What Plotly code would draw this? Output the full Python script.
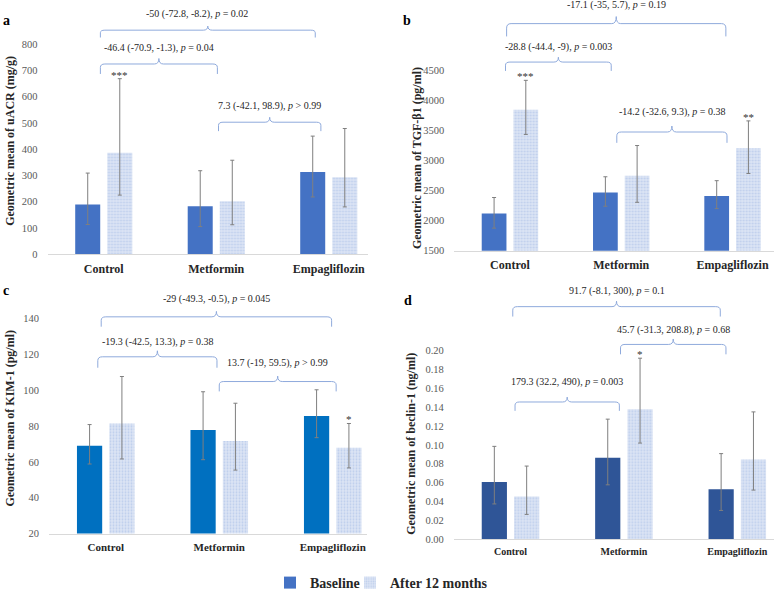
import plotly.graph_objects as go

W, H = 774, 599
FONT = "Liberation Serif"

categories = ["Control", "Metformin", "Empagliflozin"]
series_names = ["Baseline", "After 12 months"]

# ---- Panel a: uACR (mg/g)
uacr_base = [189, 183, 313]
uacr_base_hi = [309, 318, 450]
uacr_base_lo = [113, 105, 218]
uacr_after = [387, 202, 293]
uacr_after_hi = [669, 358, 479]
uacr_after_lo = [225, 112, 180]
uacr_ticks = [0, 100, 200, 300, 400, 500, 600, 700, 800]
uacr_stars = ["", "", ""]
uacr_after_stars = ["***", "", ""]

# ---- Panel b: TGF-β1 (pg/ml)
tgf_base = [2120, 2470, 2410]
tgf_base_hi = [2385, 2730, 2665]
tgf_base_lo = [1875, 2240, 2200]
tgf_after = [3845, 2745, 3205]
tgf_after_hi = [4335, 3250, 3660]
tgf_after_lo = [3435, 2305, 2785]
tgf_ticks = [1500, 2000, 2500, 3000, 3500, 4000, 4500]
tgf_stars = ["", "", ""]
tgf_after_stars = ["***", "", "**"]

# ---- Panel c: KIM-1 (pg/ml)
kim_base = [69.0, 77.7, 85.6]
kim_base_hi = [80.8, 99.1, 100.2]
kim_base_lo = [58.8, 61.2, 73.5]
kim_after = [81.4, 71.6, 67.8]
kim_after_hi = [107.6, 92.7, 81.4]
kim_after_lo = [61.6, 55.4, 56.6]
kim_ticks = [20, 40, 60, 80, 100, 120, 140]
kim_stars = ["", "", ""]
kim_after_stars = ["", "", "*"]

# ---- Panel d: beclin-1 (ng/ml)
bec_base = [0.0607, 0.0862, 0.0530]
bec_base_hi = [0.0984, 0.1273, 0.0907]
bec_base_lo = [0.0373, 0.0576, 0.0304]
bec_after = [0.0453, 0.1378, 0.0844]
bec_after_hi = [0.0775, 0.1920, 0.1350]
bec_after_lo = [0.0262, 0.1019, 0.0520]
bec_ticks = [0.00, 0.02, 0.04, 0.06, 0.08, 0.10, 0.12, 0.14, 0.16, 0.18, 0.20]
bec_stars = ["", "", ""]
bec_after_stars = ["", "*", ""]

# ---- Comparison brackets:
# (label, x_start, x_end, line level, end level, text level, text x or None)
uacr_brackets = [
    ("-50 (-72.8, -8.2), <i>p</i> = 0.02", -0.03, 1.88, 854, 826, 916, 0.83),
    ("-46.4 (-70.9, -1.3), <i>p</i> = 0.04", -0.03, 1.01, 725, 687, 785, None),
    ("7.3 (-42.1, 98.9), <i>p</i> > 0.99", 1.02, 1.93, 503, 469, 563, None),
]
tgf_brackets = [
    ("-17.1 (-35, 5.7), <i>p</i> = 0.19", -0.03, 1.94, 5279, 5066, 5590, None),
    ("-28.8 (-44.4, -9), <i>p</i> = 0.003", -0.04, 0.91, 4639, 4492, 4885, None),
    ("-14.2 (-32.6, 9.3), <i>p</i> = 0.38", 0.96, 1.95, 3475, 3295, 3803, None),
]
kim_brackets = [
    ("-29 (-49.3, -0.5), <i>p</i> = 0.045", -0.04, 1.99, 140.9, 135.4, 151.0, None),
    ("-19.3 (-42.5, 13.3), <i>p</i> = 0.38", -0.07, 0.98, 118.6, 112.5, 127.1, None),
    ("13.7 (-19, 59.5), <i>p</i> > 0.99", 1.0, 2.03, 104.8, 99.3, 115.3, None),
]
bec_brackets = [
    ("91.7 (-8.1, 300), <i>p</i> = 0.1", 0.02, 1.85, 0.2467, 0.2362, 0.2631, None),
    ("45.7 (-31.3, 208.8), <i>p</i> = 0.68", 0.97, 1.90, 0.2066, 0.1961, 0.2223, None),
    ("179.3 (32.2, 490), <i>p</i> = 0.003", 0.04, 0.96, 0.1455, 0.1361, 0.1665, None),
]

# ---- styling / layout (pixel geometry of each panel)
BASE_COLORS = {"a": "#4472C4", "b": "#4472C4", "c": "#0070C0", "d": "#2F5597"}
AFTER_BG = "#DCE5F5"
AFTER_FG = "#BDCDEC"
ERR_COLOR = "#7F7F7F"
BRACKET_COLOR = "#8FAADC"
BARGAP = 0.43
GROUPGAP = 0.22

panels = [
    dict(key="a", ax="", base=uacr_base, bhi=uacr_base_hi, blo=uacr_base_lo,
         after=uacr_after, ahi=uacr_after_hi, alo=uacr_after_lo, ticks=uacr_ticks,
         bstars=uacr_stars, astars=uacr_after_stars, brackets=uacr_brackets, fmt="",
         title="Geometric mean of uACR (mg/g)",
         x_left=47.5, x_right=368, cat_px=112.5,
         y_bottom=258, y_top=0, ppu=213 / 800, v0=0,
         title_xy=(10, 143), letter_xy=(6.5, 21), cat_size=12),
    dict(key="b", ax="2", base=tgf_base, bhi=tgf_base_hi, blo=tgf_base_lo,
         after=tgf_after, ahi=tgf_after_hi, alo=tgf_after_lo, ticks=tgf_ticks,
         bstars=tgf_stars, astars=tgf_after_stars, brackets=tgf_brackets, fmt="",
         title="Geometric mean of TGF-β1 (pg/ml)",
         x_left=454.3, x_right=774, cat_px=111.3,
         y_bottom=254.5, y_top=0, ppu=183 / 3000, v0=1500,
         title_xy=(416.5, 161), letter_xy=(406.5, 21), cat_size=12),
    dict(key="c", ax="3", base=kim_base, bhi=kim_base_hi, blo=kim_base_lo,
         after=kim_after, ahi=kim_after_hi, alo=kim_after_lo, ticks=kim_ticks,
         bstars=kim_stars, astars=kim_after_stars, brackets=kim_brackets, fmt="",
         title="Geometric mean of KIM-1 (pg/ml)",
         x_left=49, x_right=367, cat_px=113.5,
         y_bottom=541.7, y_top=282, ppu=218.4 / 120, v0=20,
         title_xy=(10, 425), letter_xy=(6, 295), cat_size=11),
    dict(key="d", ax="4", base=bec_base, bhi=bec_base_hi, blo=bec_base_lo,
         after=bec_after, ahi=bec_after_hi, alo=bec_after_lo, ticks=bec_ticks,
         bstars=bec_stars, astars=bec_after_stars, brackets=bec_brackets, fmt=".2f",
         title="Geometric mean of beclin-1 (ng/ml)",
         x_left=453.8, x_right=774, cat_px=113.4,
         y_bottom=547.3, y_top=282, ppu=191.3 / 0.20, v0=0,
         title_xy=(411.5, 451), letter_xy=(407.5, 305), cat_size=10),
]

legend_font = dict(family=FONT, size=14, color="#262626", weight="bold")
fig = go.Figure()
layout = dict(
    width=W, height=H, margin=dict(l=0, r=0, t=0, b=0),
    paper_bgcolor="white", plot_bgcolor="white",
    barmode="group", bargap=BARGAP, bargroupgap=GROUPGAP,
    font=dict(family=FONT, color="#404040"),
    showlegend=True,
    legend=dict(x=270 / W, xanchor="left", y=1 - 592 / H, yanchor="middle",
                font=legend_font, bgcolor="rgba(0,0,0,0)", itemwidth=30),
    legend2=dict(x=350 / W, xanchor="left", y=1 - 592 / H, yanchor="middle",
                 font=legend_font, bgcolor="rgba(0,0,0,0)", itemwidth=30),
)
annotations = []
shapes = []
xpos = [0, 1, 2]
slot = (1 - BARGAP) / 2

for i, p in enumerate(panels):
    xa = "x" + p["ax"]
    ya = "y" + p["ax"]
    first = i == 0
    fig.add_trace(go.Bar(
        x=xpos, y=p["base"], name=series_names[0], xaxis=xa, yaxis=ya,
        marker=dict(color=BASE_COLORS[p["key"]], line=dict(width=0)),
        error_y=dict(type="data", symmetric=False,
                     array=[h - v for h, v in zip(p["bhi"], p["base"])],
                     arrayminus=[v - l for v, l in zip(p["base"], p["blo"])],
                     color=ERR_COLOR, thickness=1, width=2),
        showlegend=first, legend="legend", hoverinfo="skip",
    ))
    fig.add_trace(go.Bar(
        x=xpos, y=p["after"], name=series_names[1], xaxis=xa, yaxis=ya,
        marker=dict(color=AFTER_BG, line=dict(width=0),
                    pattern=dict(shape=".", fgcolor=AFTER_FG, bgcolor=AFTER_BG,
                                 size=3, solidity=0.3, fillmode="replace")),
        error_y=dict(type="data", symmetric=False,
                     array=[h - v for h, v in zip(p["ahi"], p["after"])],
                     arrayminus=[v - l for v, l in zip(p["after"], p["alo"])],
                     color=ERR_COLOR, thickness=1, width=2),
        showlegend=first, legend="legend2", hoverinfo="skip",
    ))

    x_range_end = -0.5 + (p["x_right"] - p["x_left"]) / p["cat_px"]
    y_range = [p["v0"], p["v0"] + (p["y_bottom"] - p["y_top"]) / p["ppu"]]
    layout["xaxis" + p["ax"]] = dict(
        domain=[p["x_left"] / W, p["x_right"] / W], range=[-0.5, x_range_end],
        anchor=ya, showline=True, linecolor="#D9D9D9", linewidth=1,
        showgrid=False, zeroline=False, ticks="",
        tickmode="array", tickvals=xpos, ticktext=categories,
        tickfont=dict(family=FONT, size=p["cat_size"], color="#262626", weight="bold"),
        ticklabelstandoff=3, fixedrange=True,
    )
    layout["yaxis" + p["ax"]] = dict(
        domain=[1 - p["y_bottom"] / H, 1 - p["y_top"] / H], range=y_range,
        anchor=xa, showline=False, showgrid=False, zeroline=False, ticks="",
        tickmode="array", tickvals=p["ticks"], tickformat=p["fmt"],
        tickfont=dict(family=FONT, size=10.5, color="#595959"),
        ticklabelstandoff=9, fixedrange=True,
    )

    # axis title and panel letter
    annotations.append(dict(
        text="<b>" + p["title"] + "</b>", xref="paper", yref="paper",
        x=p["title_xy"][0] / W, y=1 - p["title_xy"][1] / H, textangle=-90,
        showarrow=False, xanchor="center", yanchor="middle",
        font=dict(family=FONT, size=12, color="#262626"),
    ))
    annotations.append(dict(
        text="<b>" + p["key"] + "</b>", xref="paper", yref="paper",
        x=p["letter_xy"][0] / W, y=1 - p["letter_xy"][1] / H,
        showarrow=False, xanchor="center", yanchor="middle",
        font=dict(family=FONT, size=14, color="black"),
    ))

    # significance stars above error bars
    for k in range(3):
        for stars, hi, off in ((p["bstars"], p["bhi"], -slot / 2), (p["astars"], p["ahi"], slot / 2)):
            if stars[k]:
                annotations.append(dict(
                    text=stars[k], xref=xa, yref=ya, x=k + off, y=hi[k],
                    showarrow=False, xanchor="center", yanchor="bottom", yshift=-4,
                    font=dict(family=FONT, size=11, color="#333333"),
                ))

    # comparison brackets
    for label, x0, x1, yl, ye, yt, xt in p["brackets"]:
        d = yl - ye
        yp = yl + d * 0.55
        xm = (x0 + x1) / 2
        rx = 0.04
        path = (f"M {x0},{ye} L {x0},{yl - d * 0.35} Q {x0},{yl} {x0 + rx},{yl} "
                f"L {xm - rx},{yl} Q {xm},{yl} {xm},{yp} Q {xm},{yl} {xm + rx},{yl} "
                f"L {x1 - rx},{yl} Q {x1},{yl} {x1},{yl - d * 0.35} L {x1},{ye}")
        shapes.append(dict(type="path", xref=xa, yref=ya, path=path,
                           line=dict(color=BRACKET_COLOR, width=1)))
        annotations.append(dict(
            text=label, xref=xa, yref=ya, x=xm if xt is None else xt, y=yt,
            showarrow=False, xanchor="center", yanchor="middle",
            font=dict(family=FONT, size=10, color="#262626"),
        ))

layout["annotations"] = annotations
layout["shapes"] = shapes
fig.update_layout(**layout)
fig.write_html("out.html")
